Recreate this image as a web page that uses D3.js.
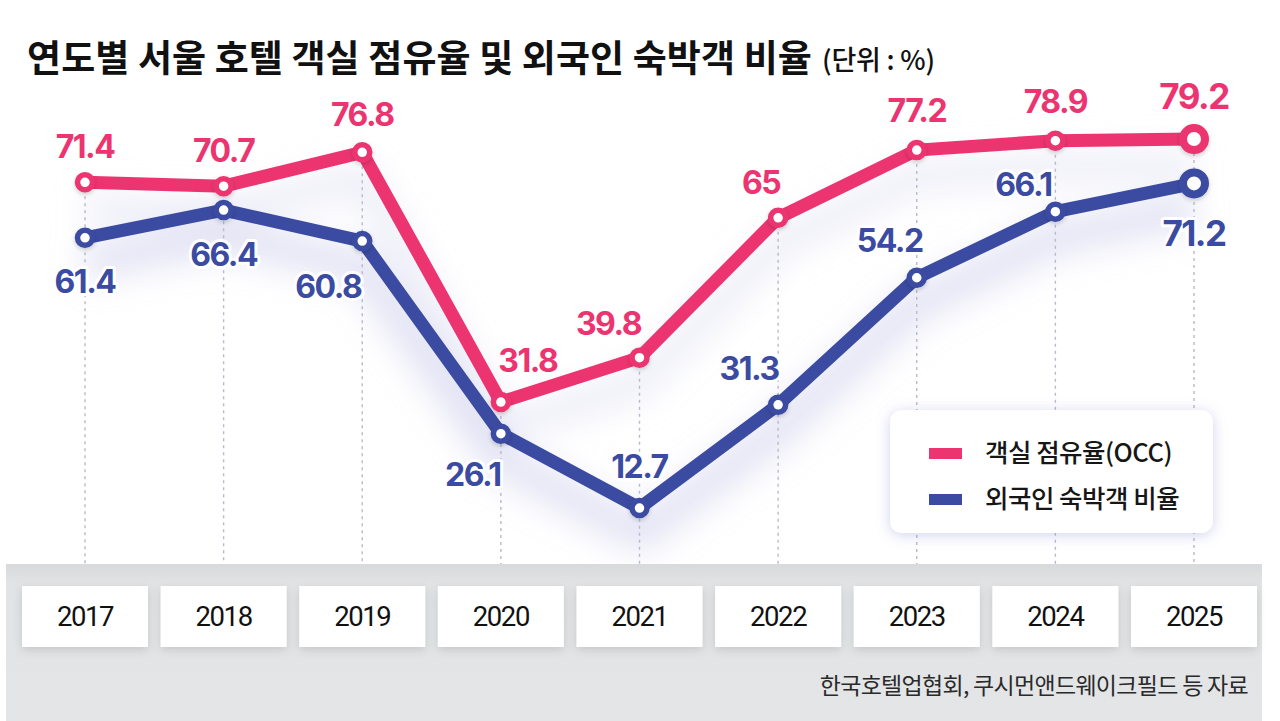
<!DOCTYPE html>
<html>
<head>
<meta charset="utf-8">
<script src="https://cdn.jsdelivr.net/npm/d3@7/dist/d3.min.js"></script>
<style>
  html, body { margin: 0; padding: 0; background: #ffffff; }
  svg { display: block; }
</style>
</head>
<body>
<svg id="chart" width="1280" height="721"></svg>
<script>
// ---- data ----
const years = ["2017", "2018", "2019", "2020", "2021", "2022", "2023", "2024", "2025"];
const occValues = [71.4, 70.7, 76.8, 31.8, 39.8, 65, 77.2, 78.9, 79.2];
const foreignValues = [61.4, 66.4, 60.8, 26.1, 12.7, 31.3, 54.2, 66.1, 71.2];
const seriesNames = ["객실 점유율(OCC)", "외국인 숙박객 비율"];
const titleText = "연도별 서울 호텔 객실 점유율 및 외국인 숙박객 비율";
const unitText = "(단위 : %)";
const sourceText = "한국호텔업협회, 쿠시먼앤드웨이크필드 등 자료";

// ---- layout (label offsets relative to point) ----
const occLabelOffset = [[0,-36],[0,-36],[0,-38],[27,-42],[-31,-34],[-17,-35],[0,-40],[0,-39],[0,-43]];
const foreignLabelOffset = [[0,44],[0,44],[-34,45],[-28,41],[0,-42],[-29,-36],[-27,-37],[-32,-27],[0,50]];

const PINK = "#ec3470";
const BLUE = "#3b4ba1";

const svg = d3.select("#chart");
const defs = svg.append("defs");

const blur = defs.append("filter").attr("id", "glow").attr("x", "-20%").attr("y", "-50%").attr("width", "140%").attr("height", "200%");
blur.append("feGaussianBlur").attr("stdDeviation", 16);

const ds = defs.append("filter").attr("id", "boxShadow").attr("x", "-20%").attr("y", "-30%").attr("width", "140%").attr("height", "170%");
ds.append("feDropShadow").attr("dx", 0).attr("dy", 3).attr("stdDeviation", 5).attr("flood-color", "#000").attr("flood-opacity", 0.13);

const ls = defs.append("filter").attr("id", "legendShadow").attr("x", "-20%").attr("y", "-30%").attr("width", "140%").attr("height", "170%");
ls.append("feDropShadow").attr("dx", 0).attr("dy", 2).attr("stdDeviation", 7).attr("flood-color", "#7a80d0").attr("flood-opacity", 0.35);

const ms = defs.append("filter").attr("id", "markShadow").attr("x", "-50%").attr("y", "-50%").attr("width", "200%").attr("height", "200%");
ms.append("feDropShadow").attr("dx", 0).attr("dy", 2).attr("stdDeviation", 2).attr("flood-color", "#000").attr("flood-opacity", 0.18);

const panelGrad = defs.append("linearGradient").attr("id", "panelGrad").attr("x1", 0).attr("y1", 0).attr("x2", 0).attr("y2", 1);
panelGrad.append("stop").attr("offset", "0%").attr("stop-color", "#d8d9db");
panelGrad.append("stop").attr("offset", "12%").attr("stop-color", "#e2e3e5");
panelGrad.append("stop").attr("offset", "100%").attr("stop-color", "#e4e5e7");

// ---- scales ----
const x = d3.scalePoint().domain(years).range([85, 1194]);
const y = d3.scaleLinear().domain([0, 100]).range([578.5, 23.6]);

const occData = years.map((yr, i) => ({ year: yr, value: occValues[i], i }));
const forData = years.map((yr, i) => ({ year: yr, value: foreignValues[i], i }));

const line = d3.line().x(d => x(d.year)).y(d => y(d.value));

// ---- soft glow under lines ----
const glowG = svg.append("g").attr("filter", "url(#glow)").attr("transform", "translate(0,26)");
glowG.append("path").datum(forData).attr("d", line).attr("fill", "none")
  .attr("stroke", "#c6c8ea").attr("stroke-width", 34).attr("stroke-opacity", 0.5).attr("stroke-linejoin", "round");
glowG.append("path").datum(occData).attr("d", line).attr("fill", "none")
  .attr("stroke", "#d3d4ee").attr("stroke-width", 30).attr("stroke-opacity", 0.4).attr("stroke-linejoin", "round");

// ---- dotted gridlines ----
const panelTop = 564;
svg.append("g").selectAll("line").data(years).join("line")
  .attr("x1", d => x(d)).attr("x2", d => x(d))
  .attr("y1", (d, i) => y(Math.max(occValues[i], foreignValues[i])))
  .attr("y2", panelTop)
  .attr("stroke", "#b7bacd").attr("stroke-width", 1.4).attr("stroke-dasharray", "3,4");

// ---- title ----
svg.append("text").attr("x", 27).attr("y", 72).text(titleText)
  .attr("font-family", "'Noto Sans CJK KR', sans-serif").attr("font-weight", 700)
  .attr("font-size", 37).attr("letter-spacing", 0.1).attr("fill", "#111");
svg.append("text").attr("x", 822).attr("y", 70).text(unitText)
  .attr("font-family", "'Noto Sans CJK KR', sans-serif").attr("font-weight", 500)
  .attr("font-size", 27).attr("letter-spacing", -0.2).attr("fill", "#111");

// ---- bottom panel ----
svg.append("rect").attr("x", 6).attr("y", panelTop).attr("width", 1256).attr("height", 721 - panelTop)
  .attr("fill", "url(#panelGrad)");

const boxW = 126, boxH = 61;
const axisG = svg.append("g");
axisG.selectAll("rect").data(years).join("rect")
  .attr("x", d => x(d) - boxW / 2).attr("y", 586).attr("width", boxW).attr("height", boxH)
  .attr("fill", "#fff").attr("filter", "url(#boxShadow)");
axisG.selectAll("text").data(years).join("text")
  .attr("x", d => x(d)).attr("y", 616).attr("dy", "0.36em").attr("text-anchor", "middle")
  .attr("font-family", "Roboto, sans-serif").attr("font-weight", 400).attr("font-size", 27.5).attr("letter-spacing", -1.4)
  .attr("fill", "#111").text(d => d);

svg.append("text").attr("x", 1248).attr("y", 686).attr("dy", "0.36em").attr("text-anchor", "end")
  .attr("font-family", "'Noto Sans CJK KR', sans-serif").attr("font-size", 23).attr("letter-spacing", -0.7)
  .attr("fill", "#2a2a2a").text(sourceText);

// ---- legend ----
const lg = svg.append("g");
lg.append("rect").attr("x", 890).attr("y", 410).attr("width", 323).attr("height", 123).attr("rx", 12)
  .attr("fill", "#fff").attr("filter", "url(#legendShadow)");
const legendColors = [PINK, BLUE];
seriesNames.forEach((name, i) => {
  const cy = 453 + i * 46;
  lg.append("rect").attr("x", 929).attr("y", cy - 5).attr("width", 33).attr("height", 11).attr("fill", legendColors[i]);
  lg.append("text").attr("x", 985).attr("y", cy).attr("dy", "0.36em")
    .attr("font-family", "'Noto Sans CJK KR', sans-serif").attr("font-weight", 500)
    .attr("font-size", 25.5).attr("letter-spacing", -0.5).attr("fill", "#161616").text(name);
});

// ---- lines ----
function drawSeries(data, color) {
  const g = svg.append("g");
  g.append("path").datum(data).attr("d", line).attr("fill", "none")
    .attr("stroke", color).attr("stroke-width", 13).attr("stroke-linejoin", "round").attr("stroke-linecap", "round");
  g.selectAll("circle").data(data).join("circle")
    .attr("cx", d => x(d.year)).attr("cy", d => y(d.value))
    .attr("r", d => d.i === data.length - 1 ? 11 : 7.5)
    .attr("fill", "#fff").attr("stroke", color)
    .attr("stroke-width", d => d.i === data.length - 1 ? 8 : 5.5)
    .attr("filter", "url(#markShadow)");
  return g;
}
drawSeries(forData, BLUE);
drawSeries(occData, PINK);

// ---- labels ----
function drawLabels(data, color, offsets) {
  const g = svg.append("g");
  g.selectAll("text").data(data).join("text")
    .attr("x", d => x(d.year) + offsets[d.i][0])
    .attr("y", d => y(d.value) + offsets[d.i][1])
    .attr("dy", "0.36em").attr("text-anchor", "middle")
    .attr("font-family", "Inter, sans-serif").attr("font-weight", 700)
    .attr("font-size", d => d.i === data.length - 1 ? 35 : 32)
    .attr("letter-spacing", -1.5)
    .attr("fill", color)
    .attr("stroke", "#fff").attr("stroke-width", 6).attr("stroke-linejoin", "round")
    .attr("paint-order", "stroke")
    .text(d => d.value);
}
drawLabels(forData, BLUE, foreignLabelOffset);
drawLabels(occData, PINK, occLabelOffset);
</script>
</body>
</html>
